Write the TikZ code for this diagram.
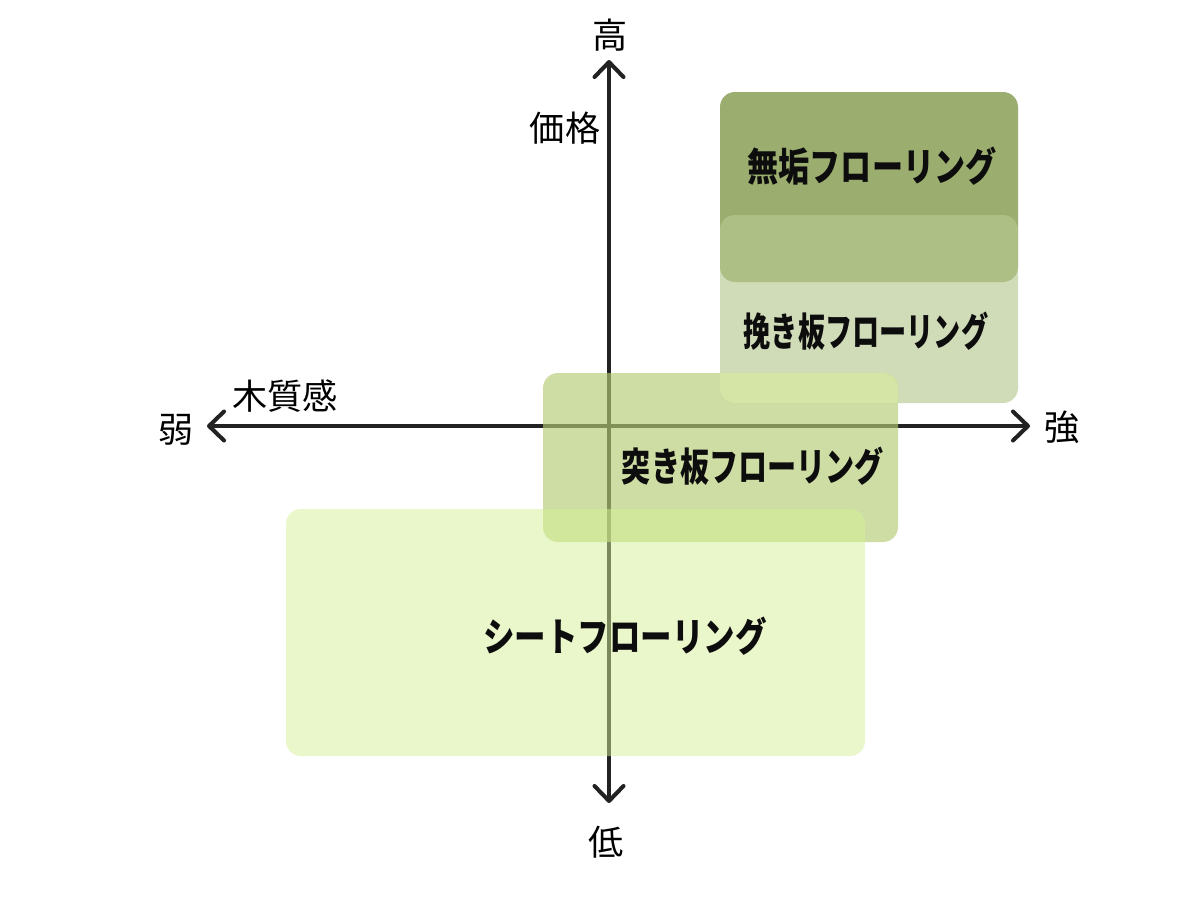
\documentclass[tikz,border=0pt]{standalone}
\usepackage{graphicx}
\usepackage{fontspec}
\newfontfamily\jp{Noto Sans CJK JP}
\usetikzlibrary{arrows.meta}
\definecolor{axiscol}{HTML}{222222}
\definecolor{mukucol}{RGB}{156,174,111}
\definecolor{hikicol}{RGB}{184,201,147}
\definecolor{tsukicol}{RGB}{180,203,115}
\definecolor{overcol}{RGB}{212,229,166}
\definecolor{sheetcol}{RGB}{213,241,151}
\tikzset{
  axis/.style={draw=axiscol, line width=2.3pt, -{Straight Barb[length=0.3cm,width=0.58cm,round]}},
  axlabel/.style={font=\jp\fontsize{20pt}{24pt}\selectfont, text=black, inner sep=0pt},
  boxlabel/.style={font=\jp\bfseries\fontsize{22.4pt}{27pt}\selectfont, text=black!95, inner sep=0pt},
  panel/.style={rounded corners=0.3cm, draw=none}
}
\begin{document}
\begin{tikzpicture}[x=0.02cm, y=-0.02cm]
\useasboundingbox (0,0) rectangle (1200,900);
\fill[white] (0,0) rectangle (1200,900);
% axes
\coordinate (origin) at (609,426);
\coordinate (top) at (609,60);
\coordinate (bottom) at (609,803);
\coordinate (left) at (207,426);
\coordinate (right) at (1030,426);
\draw[axis] (origin) -- (top);
\draw[axis] (origin) -- (bottom);
\draw[axis] (origin) -- (left);
\draw[axis] (origin) -- (right);
% panels
\fill[panel, mukucol] (720,92) rectangle (1018,282);
\fill[panel, hikicol, fill opacity=0.65] (720,215) rectangle (1018,403);
\fill[panel, tsukicol, fill opacity=0.65] (543,373) rectangle (898,542);
\begin{scope}
  \clip[rounded corners=0.3cm] (720,215) rectangle (1018,403);
  \fill[panel, overcol] (543,373) rectangle (898,542);
\end{scope}
\fill[panel, sheetcol, fill opacity=0.5] (286,509) rectangle (865,756);
% axis labels
\node[axlabel] (high) at (610,35) {高};
\node[axlabel] (price) at (565,128) {価格};
\node[axlabel] (low) at (606,842) {低};
\node[axlabel] (weak) at (176,430) {弱};
\node[axlabel] (strong) at (1062,427) {強};
\node[axlabel] (wood) at (285,396) {木質感};
% panel labels
\node[boxlabel] (muku) at (872,166) {\scalebox{0.79}[1]{無垢フローリング}};
\node[boxlabel] (hiki) at (866,331) {\scalebox{0.69}[1]{挽き板フローリング}};
\node[boxlabel] (tsuki) at (753,466) {\scalebox{0.74}[1]{突き板フローリング}};
\node[boxlabel] (sheet) at (625,636) {\scalebox{0.80}[1]{シートフローリング}};
\end{tikzpicture}
\end{document}
